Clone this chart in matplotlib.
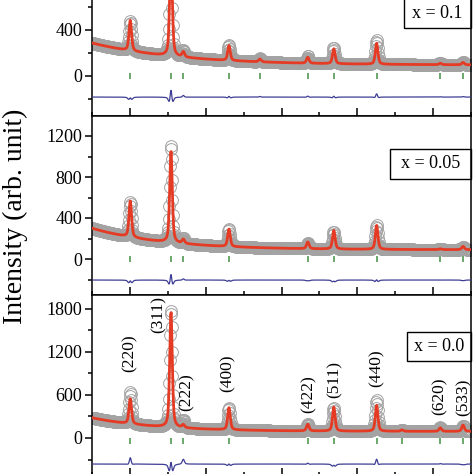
import numpy as np
import matplotlib
matplotlib.use('Agg')
import matplotlib.pyplot as plt
from matplotlib.ticker import MultipleLocator
from matplotlib.patches import Rectangle

plt.rcParams['font.family'] = ['Liberation Serif', 'DejaVu Serif']

# spinel reflections (2theta, deg)
refl_pos = [30.05, 35.42, 37.05, 43.07, 47.16, 53.47, 56.90, 62.55, 65.90, 70.95, 73.95]
refl_hkl = ['(220)', '(311)', '(222)', '(400)', '(331)', '(422)', '(511)', '(440)', '(531)', '(620)', '(533)']

# x = 0.1  (peak heights above background)
calc_01 = [265, 900, 45, 130, 25, 52, 131, 182, 0, 12, 20]
obs_01 = [258, 960, 60, 136, 30, 60, 138, 210, 0, 14, 24]
bkg_01 = [95, 192, 11.5]          # c, a, decay
bragg_01 = [0, 1, 2, 3, 4, 5, 6, 7, 9, 10]

# x = 0.05
calc_005 = [353, 895, 40, 171, 0, 66, 183, 234, 0, 8, 32]
obs_005 = [345, 950, 52, 168, 0, 60, 172, 236, 0, 8, 26]
bkg_005 = [90, 210, 9.5]
bragg_005 = [0, 1, 2, 3, 5, 6, 7, 9, 10]

# x = 0.0
calc_00 = [351, 1615, 41, 309, 0, 93, 337, 362, 20, 49, 89]
obs_00 = [440, 1640, 110, 310, 0, 105, 320, 430, 22, 55, 80]
bkg_00 = [92, 190, 8.5]
bragg_00 = [0, 1, 2, 3, 5, 6, 7, 8, 9, 10]

labels_x = ['x = 0.1', 'x = 0.05', 'x = 0.0']
diff_offset = [-183, -205, -363]


def pv(tt, x0, h, w, eta=0.5):
    d = (tt - x0) / w
    return h * (eta / (1 + 4 * d**2) + (1 - eta) * np.exp(-4 * np.log(2) * d**2))


def profile(tt, heights, bkg, w):
    y = bkg[0] + bkg[1] * np.exp(-(tt - 25) / bkg[2])
    for x0, h in zip(refl_pos, heights):
        y = y + pv(tt, x0, h, w)
    return y


H = 474.0
def fx(p):
    return p / H
def fy(p):
    return 1 - p / H

fig = plt.figure(figsize=(4.74, 4.74), dpi=100)

# panel geometry in pixels: (top, bottom, zero-line pixel, px per count)
panels = [(-20, 116, 76, 0.115), (116, 295, 259, 0.1025), (295, 476, 438, 0.0717)]
majors = [400, 400, 600]
label_max = [500, 1300, 1900]
calcs = [calc_01, calc_005, calc_00]
obss = [obs_01, obs_005, obs_00]
bkgs = [bkg_01, bkg_005, bkg_00]
braggs = [bragg_01, bragg_005, bragg_00]
tick_y = [0, 0, -40]

tt = np.arange(25, 75.001, 0.06)
axes = []
for i, (top, bot, zero, sc) in enumerate(panels):
    ax = fig.add_axes([fx(92), fy(bot), fx(471 - 92), (bot - top) / H])
    ycalc = profile(tt, calcs[i], bkgs[i], 0.40)
    yobs = profile(tt, obss[i], bkgs[i], 0.36)
    ax.plot(tt, yobs, 'o', ms=8.5, mfc='none', mec='#a3a3a3', mew=0.7, zorder=2)
    ax.plot(tt, ycalc, '-', color='#e53b25', lw=2.0, zorder=3)
    bp = [refl_pos[k] for k in braggs[i]]
    ax.plot(bp, [tick_y[i]] * len(bp), '|', ms=5, mew=1.4, color='#6aa86a', zorder=3)
    ax.plot(tt, yobs - ycalc + diff_offset[i], '-', color='#3d3d94', lw=0.9, zorder=3)

    ax.set_xlim(25, 75)
    ax.set_ylim(-(bot - zero) / sc, (zero - top) / sc)
    ax.xaxis.set_major_locator(MultipleLocator(10))
    ax.xaxis.set_minor_locator(MultipleLocator(5))
    ax.yaxis.set_major_locator(MultipleLocator(majors[i]))
    ax.yaxis.set_minor_locator(MultipleLocator(majors[i] / 2))
    ax.tick_params(axis='x', which='both', direction='in', labelbottom=False, width=1.1)
    ax.tick_params(axis='x', which='major', length=6)
    ax.tick_params(axis='x', which='minor', length=3)
    ax.tick_params(axis='y', which='both', direction='out', labelsize=13, pad=2, width=1.1)
    ax.tick_params(axis='y', which='major', length=5)
    ax.tick_params(axis='y', which='minor', length=3)
    lm = label_max[i]
    ax.yaxis.set_major_formatter(plt.FuncFormatter(
        lambda v, p, lm=lm: '%d' % v if 0 <= v <= lm else ''))
    for s in ax.spines.values():
        s.set_linewidth(1.1)
    axes.append(ax)

# hkl labels on the x = 0.0 panel
hkl_xy = {'(220)': (30.0, 1185), '(311)': (33.84, 1722), '(222)': (37.5, 641),
          '(400)': (42.94, 900), '(422)': (53.63, 607), '(511)': (57.06, 809),
          '(440)': (62.6, 969), '(620)': (70.9, 579), '(533)': (74.08, 565)}
for lab in refl_hkl:
    if lab in hkl_xy:
        x, y = hkl_xy[lab]
        axes[2].text(x, y, lab, rotation=90, ha='center', va='center', fontsize=12.5)

# composition boxes (pixel boxes: left, top, right, bottom)
boxes = [(404, -2, 471, 28), (390, 149, 471, 179), (407, 332, 471, 361)]
for lab, (l, t, r, b) in zip(labels_x, boxes):
    fig.add_artist(Rectangle((fx(l), fy(b)), fx(r - l), (b - t) / H,
                             transform=fig.transFigure, fill=False, lw=1.0, ec='black'))
    fig.text(fx((l + r) / 2), fy((t + b) / 2), lab, ha='center', va='center', fontsize=13)

fig.text(fx(15), fy(216), 'Intensity (arb. unit)', rotation=90, ha='center', va='center', fontsize=20)

fig.savefig('out.png', dpi=100)
